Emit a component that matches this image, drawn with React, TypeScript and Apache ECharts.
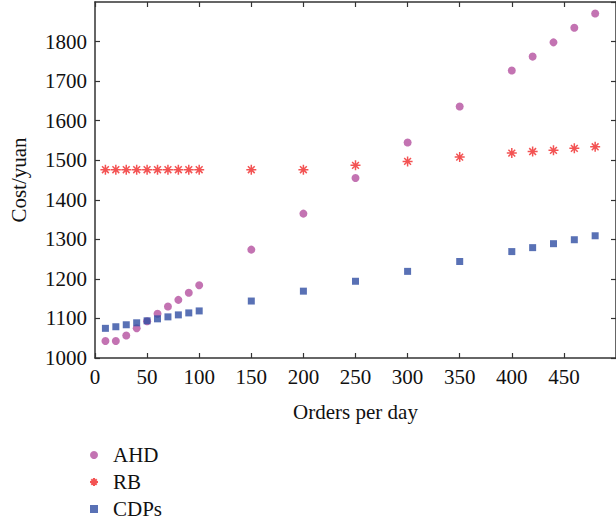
import React, { useEffect, useRef } from "react";
import * as echarts from "echarts";

const ordersPerDay = [10, 20, 30, 40, 50, 60, 70, 80, 90, 100, 150, 200, 250, 300, 350, 400, 420, 440, 460, 480];
const ahdCost = [1043, 1043, 1057, 1075, 1093, 1112, 1130, 1147, 1165, 1184, 1274, 1365, 1455, 1545, 1636, 1727, 1762, 1798, 1835, 1871];
const rbCost = [1476, 1476, 1476, 1476, 1476, 1476, 1476, 1476, 1476, 1476, 1476, 1476, 1487, 1497, 1508, 1518, 1522, 1525, 1530, 1534];
const cdpsCost = [1075, 1079, 1084, 1089, 1094, 1099, 1104, 1109, 1114, 1119, 1144, 1169, 1194, 1219, 1244, 1269, 1279, 1289, 1299, 1309];
const seriesNames = ["AHD", "RB", "CDPs"];

const FONT = "'Liberation Serif', 'DejaVu Serif', serif";
const FS = 21;
const AXIS_COLOR = "#333";
const STAR = "path://M5 0L5 10M0 5L10 5M1.6 1.6L8.4 8.4M1.6 8.4L8.4 1.6";

function pairs(ys: number[]) {
  return ordersPerDay.map((x, i) => [x, ys[i]]);
}

export default function App() {
  const ref = useRef<HTMLDivElement>(null);
  useEffect(() => {
    if (!ref.current) return;
    const chart = echarts.init(ref.current, null, { renderer: "svg" });
    const axisCommon = {
      axisLine: { show: true, onZero: false, lineStyle: { color: AXIS_COLOR, width: 1.5 } },
      axisTick: { show: true, inside: true, length: 5, lineStyle: { color: AXIS_COLOR, width: 1.2 } },
      splitLine: { show: false },
    };
    chart.setOption({
      animation: false,
      backgroundColor: "#fff",
      grid: { left: 90, right: -4, top: 2, bottom: 165, containLabel: false },
      xAxis: [
        {
          type: "value",
          min: 0,
          max: 500,
          interval: 50,
          position: "bottom",
          name: "Orders per day",
          nameLocation: "middle",
          nameGap: 43,
          nameTextStyle: { fontFamily: FONT, fontSize: FS, color: "#111" },
          axisLabel: {
            showMaxLabel: false,
            margin: 8,
            fontFamily: FONT,
            fontSize: FS,
            color: "#111",
            formatter: (v: number) => String(v),
          },
          ...axisCommon,
        },
        {
          type: "value",
          min: 0,
          max: 500,
          interval: 50,
          position: "top",
          axisLabel: { show: false },
          ...axisCommon,
        },
      ],
      yAxis: [
        {
          type: "value",
          min: 1000,
          max: 1900,
          interval: 100,
          position: "left",
          name: "Cost/yuan",
          nameLocation: "middle",
          nameGap: 66,
          nameTextStyle: { fontFamily: FONT, fontSize: FS, color: "#111" },
          axisLabel: {
            showMaxLabel: false,
            margin: 8,
            fontFamily: FONT,
            fontSize: FS,
            color: "#111",
            formatter: (v: number) => String(v),
          },
          ...axisCommon,
        },
        {
          type: "value",
          min: 1000,
          max: 1900,
          interval: 100,
          position: "right",
          axisLabel: { show: false },
          ...axisCommon,
        },
      ],
      legend: {
        orient: "vertical",
        left: 89,
        top: 444,
        height: 120,
        padding: 0,
        itemWidth: 8,
        itemHeight: 8,
        itemGap: 5,
        textStyle: { fontFamily: FONT, fontSize: FS, color: "#111", lineHeight: 22, padding: [0, 0, 0, 10] },
        data: [
          { name: seriesNames[0], icon: "circle" },
          { name: seriesNames[1], icon: STAR },
          { name: seriesNames[2], icon: "rect" },
        ],
      },
      series: [
        {
          name: seriesNames[0],
          type: "scatter",
          symbol: "circle",
          symbolSize: 8,
          itemStyle: { color: "#b4509f" },
          data: pairs(ahdCost),
        },
        {
          name: seriesNames[1],
          type: "scatter",
          symbol: STAR,
          symbolSize: 10,
          itemStyle: { color: "#f02828", borderColor: "#f02828", borderWidth: 1.5 },
          data: pairs(rbCost),
        },
        {
          name: seriesNames[2],
          type: "scatter",
          symbol: "rect",
          symbolSize: 7,
          itemStyle: { color: "#2f4ea2" },
          data: pairs(cdpsCost),
        },
      ],
    });
    return () => chart.dispose();
  }, []);
  return (
    <div
      ref={ref}
      style={{ position: "fixed", left: 0, top: 0, width: 616, height: 523, background: "#fff" }}
    />
  );
}
